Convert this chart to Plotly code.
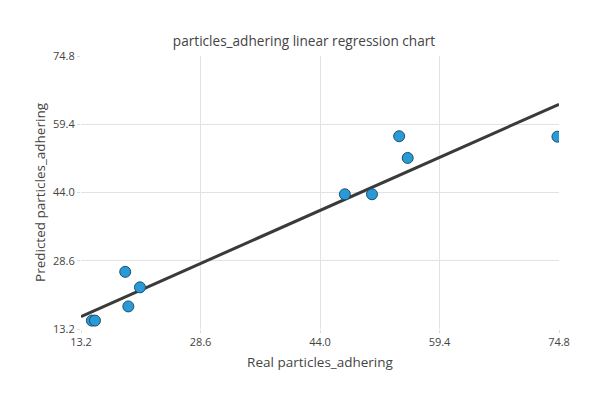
import plotly.graph_objects as go

# Data
real_values = [14.6, 15.0, 18.9, 19.3, 20.8, 47.2, 50.7, 54.2, 55.3, 74.6]
predicted_values = [15.1, 15.1, 26.1, 18.3, 22.6, 43.6, 43.6, 56.7, 51.8, 56.6]
fit_x = [13.2, 74.8]
fit_y = [16.0, 63.9]
tick_vals = [13.2, 28.6, 44.0, 59.4, 74.8]
tick_text = ["13.2", "28.6", "44.0", "59.4", "74.8"]

fig = go.Figure()
fig.add_trace(go.Scatter(
    x=fit_x, y=fit_y, mode="lines",
    line=dict(color="#3a3a3a", width=3),
    showlegend=False, hoverinfo="skip",
))
fig.add_trace(go.Scatter(
    x=real_values, y=predicted_values, mode="markers",
    marker=dict(size=11, color="#2a9ad6", line=dict(color="#1d4f6e", width=1)),
    showlegend=False,
))

axis_common = dict(
    range=[13.2, 74.8], tickvals=tick_vals, ticktext=tick_text,
    showgrid=True, gridcolor="#e2e2e2", gridwidth=1,
    showline=False, zeroline=False, automargin=False,
    ticks="outside", ticklen=3, tickcolor="#dcdcdc",
    tickfont=dict(size=11, color="#444444"),
)

fig.update_layout(
    width=592, height=392,
    paper_bgcolor="white", plot_bgcolor="white",
    margin=dict(l=73, r=41, t=48, b=71),
    font=dict(family="Open Sans", color="#444444"),
    title=dict(text="particles_adhering linear regression chart",
               x=0.5, xanchor="center", y=0.915, yanchor="middle",
               font=dict(size=13.6, color="#444444")),
    xaxis=dict(title=dict(text="Real particles_adhering", font=dict(size=13.5, color="#444444"), standoff=9),
               **axis_common),
    yaxis=dict(title=dict(text="Predicted particles_adhering", font=dict(size=13.5, color="#444444"), standoff=4),
               **axis_common),
)

fig.write_html("out.html")
